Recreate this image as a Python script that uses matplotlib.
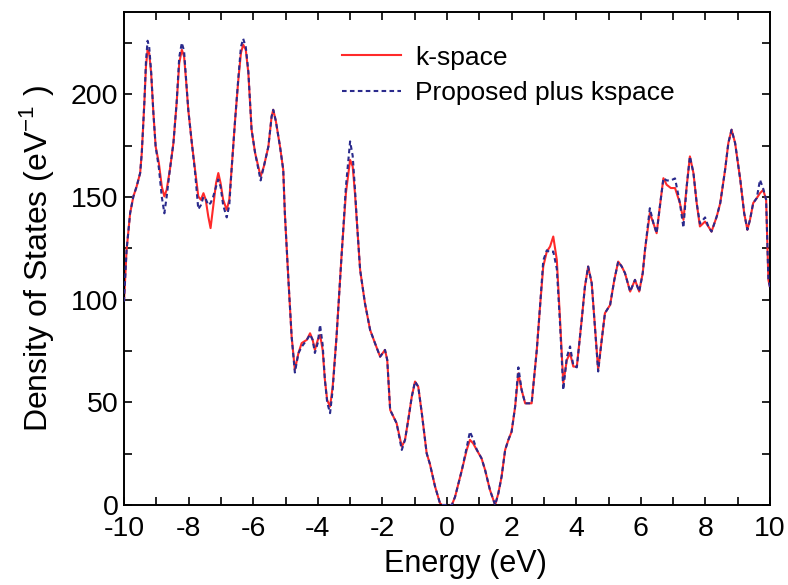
import matplotlib
matplotlib.use("Agg")
import matplotlib.pyplot as plt
from matplotlib.ticker import MultipleLocator

plt.rcParams['font.family'] = ['Liberation Sans', 'DejaVu Sans']

energy = [-10.0, -9.92, -9.81, -9.71, -9.61, -9.50, -9.45, -9.37, -9.32, -9.27,
          -9.22, -9.16, -9.09, -9.02, -8.92, -8.83, -8.75, -8.68, -8.58, -8.47,
          -8.37, -8.29, -8.21, -8.14, -8.08, -8.01, -7.90, -7.80, -7.70, -7.62,
          -7.54, -7.47, -7.39, -7.32, -7.24, -7.15, -7.08, -7.01, -6.93, -6.82,
          -6.74, -6.67, -6.56, -6.46, -6.38, -6.31, -6.23, -6.15, -6.05, -5.94,
          -5.77, -5.67, -5.53, -5.43, -5.38, -5.30, -5.17, -5.07, -5.02, -4.91,
          -4.81, -4.71, -4.60, -4.50, -4.34, -4.24, -4.16, -4.09, -4.00, -3.93,
          -3.85, -3.78, -3.71, -3.62, -3.54, -3.42, -3.26, -3.13, -3.00, -2.92,
          -2.85, -2.78, -2.69, -2.54, -2.38, -2.23, -2.07, -1.92, -1.85, -1.76,
          -1.66, -1.56, -1.40, -1.30, -1.20, -1.09, -0.99, -0.89, -0.78, -0.63,
          -0.53, -0.37, -0.22, -0.16, 0.15, 0.25, 0.46, 0.61, 0.71, 0.81,
          0.92, 1.07, 1.18, 1.33, 1.49, 1.59, 1.69, 1.80, 1.90, 2.00,
          2.11, 2.21, 2.31, 2.42, 2.62, 2.78, 2.88, 2.98, 3.09, 3.19,
          3.29, 3.40, 3.50, 3.60, 3.71, 3.81, 3.91, 4.02, 4.17, 4.27,
          4.37, 4.48, 4.58, 4.68, 4.79, 4.89, 5.05, 5.18, 5.30, 5.41,
          5.51, 5.67, 5.82, 5.95, 6.06, 6.13, 6.28, 6.39, 6.49, 6.59,
          6.70, 6.80, 6.93, 7.06, 7.21, 7.32, 7.42, 7.52, 7.63, 7.73,
          7.83, 7.99, 8.09, 8.19, 8.35, 8.46, 8.61, 8.71, 8.81, 8.92,
          9.08, 9.20, 9.30, 9.38, 9.48, 9.59, 9.69, 9.79, 9.88, 9.95,
          10.0]

dos_kspace = [99, 124.2, 142.1, 150.2, 155, 161.6, 171.3, 195.7, 213.5, 221.6,
              220, 210.3, 190.8, 174.5, 166.4, 155, 150.2, 153.4, 163.2, 176.2,
              195.7, 215.1, 221.6, 218.4, 207, 192.4, 176.2, 163.2, 150.2, 148.6,
              151.8, 148.6, 140.4, 134.8, 145.3, 156.7, 161.6, 156.7, 148.6, 143.7,
              148.6, 163.2, 187.5, 207, 220, 224.1, 221.6, 210.3, 182.7, 171.3,
              159.9, 164.8, 174.5, 189.1, 192.4, 187, 174.5, 163.2, 142, 109.6,
              82, 65.8, 73.9, 78.8, 80.4, 83.6, 80.4, 75.5, 80.4, 82.8,
              75.5, 60.9, 51.1, 47.9, 57.6, 82, 122.6, 151.8, 168, 164.8,
              151.8, 135.6, 114.5, 98.2, 85.2, 78.8, 72.2, 75.5, 70.6, 46.3,
              43, 39.8, 28.4, 31.7, 41.4, 52.8, 60.1, 57.6, 44.7, 25.2,
              20, 9, 1, 0, 0, 4, 17, 26.8, 31.7, 30,
              26.8, 22.7, 17, 7.3, 0, 5.7, 13.8, 26.8, 31.7, 35.7,
              47.9, 64.1, 56, 49.5, 49.5, 75.5, 96.6, 116.1, 123.4, 125.8,
              130.7, 119.3, 90.1, 59.3, 70.6, 73.9, 67.4, 67.4, 90.1, 106.3,
              116.1, 108, 86.8, 65.8, 80.4, 93.4, 97.4, 109.6, 118.5, 116.1,
              112.9, 103.9, 109.6, 103.9, 112.9, 124.2, 142.1, 137.2, 132.3, 145.3,
              159.1, 155.9, 154.3, 154.3, 147, 138.8, 155, 169.7, 161.6, 147,
              135.6, 138, 135.6, 133.1, 140.4, 147, 163.2, 176.2, 182.7, 176.2,
              158.3, 142.1, 134, 138.8, 147, 149.4, 151.8, 153.4, 148.6, 109.6,
              106]

dos_proposed = [99, 124.2, 142.1, 150.2, 155, 161.6, 171.3, 196, 216, 226,
                223, 211, 190.8, 174.5, 164, 150, 142, 150, 163.2, 176.2,
                196, 218, 225, 221, 208, 192.4, 176.2, 162, 144, 146,
                150, 149, 146, 147, 150, 155, 158.5, 155, 146, 140,
                146, 163.2, 187.5, 208, 223, 227, 223, 211, 182.7, 171.3,
                158, 164.8, 174.5, 189.1, 192.4, 187, 174.5, 163.2, 142, 109.6,
                82, 64.5, 73.9, 77, 80.4, 83, 80.4, 74, 79, 87.7,
                78, 60.9, 50, 44.7, 56, 82, 122.6, 155, 177, 170,
                154, 135.6, 114.5, 98.2, 85.2, 78.8, 72.2, 75.5, 70.6, 46.3,
                43, 39.8, 26.8, 31.7, 41.4, 52.8, 60.1, 57.6, 44.7, 25.2,
                20, 9, 1, 0, 0, 4, 17, 28, 35.7, 32,
                27, 22.7, 17, 7.3, 0, 5.7, 13.8, 26.8, 31.7, 35.7,
                47.9, 67, 56, 49.5, 49.5, 75.5, 96.6, 119, 124, 123,
                123.4, 115, 88, 56, 72, 77.2, 68, 67, 90.1, 106.3,
                116.1, 108, 86.8, 65, 80.4, 93.4, 97.4, 109.6, 118.5, 116.1,
                112.9, 103.9, 109.6, 103.9, 112.9, 124.2, 144.5, 137.2, 132.3, 145.3,
                159.1, 158, 158, 159, 147, 135, 155, 169.7, 161.6, 147,
                137, 140, 135.6, 133.1, 140.4, 147, 163.2, 176.2, 182.7, 176.2,
                158.3, 142.1, 134, 138.8, 147, 149.4, 158.3, 154, 148.6, 109.6,
                106]

series_labels = ["k-space", "Proposed plus kspace"]
xticks = [-10, -8, -6, -4, -2, 0, 2, 4, 6, 8, 10]
yticks = [0, 50, 100, 150, 200]

fig = plt.figure(figsize=(7.88, 5.85), dpi=100)
ax = fig.add_axes([124/788, 1-505/585, (770-124)/788, (505-12)/585])

ax.plot(energy, dos_kspace, color='#ff2a2a', lw=1.5, label=series_labels[0],
        zorder=2, solid_joinstyle='round')
ax.plot(energy, dos_proposed, color='#2a2a8c', lw=1.5, ls=(0, (2.2, 1.6)),
        label=series_labels[1], zorder=3)

ax.set_xlim(-10, 10)
ax.set_ylim(0, 240)
ax.set_xticks(xticks)
ax.set_yticks(yticks)
ax.set_xticklabels([str(t) for t in xticks])
ax.xaxis.set_minor_locator(MultipleLocator(1))
ax.yaxis.set_minor_locator(MultipleLocator(25))
ax.tick_params(which='both', direction='in', top=True, right=True,
               length=5.5, width=1.2, labelsize=20.5)
ax.tick_params(axis='x', pad=8)
ax.tick_params(axis='y', pad=4)
for s in ax.spines.values():
    s.set_linewidth(1.4)

ax.set_xlabel("Energy (eV)", fontsize=22)
ax.xaxis.set_label_coords(0.528, -0.089)
ax.set_ylabel(r"Density of States (eV$^{\mathregular{-1}}$ )", fontsize=23, labelpad=11)

leg = ax.legend(loc='upper left', bbox_to_anchor=(0.30, 0.98), frameon=False,
                fontsize=19, handlelength=2.25, handletextpad=0.55, labelspacing=0.45)

fig.savefig("out.png", dpi=100)
